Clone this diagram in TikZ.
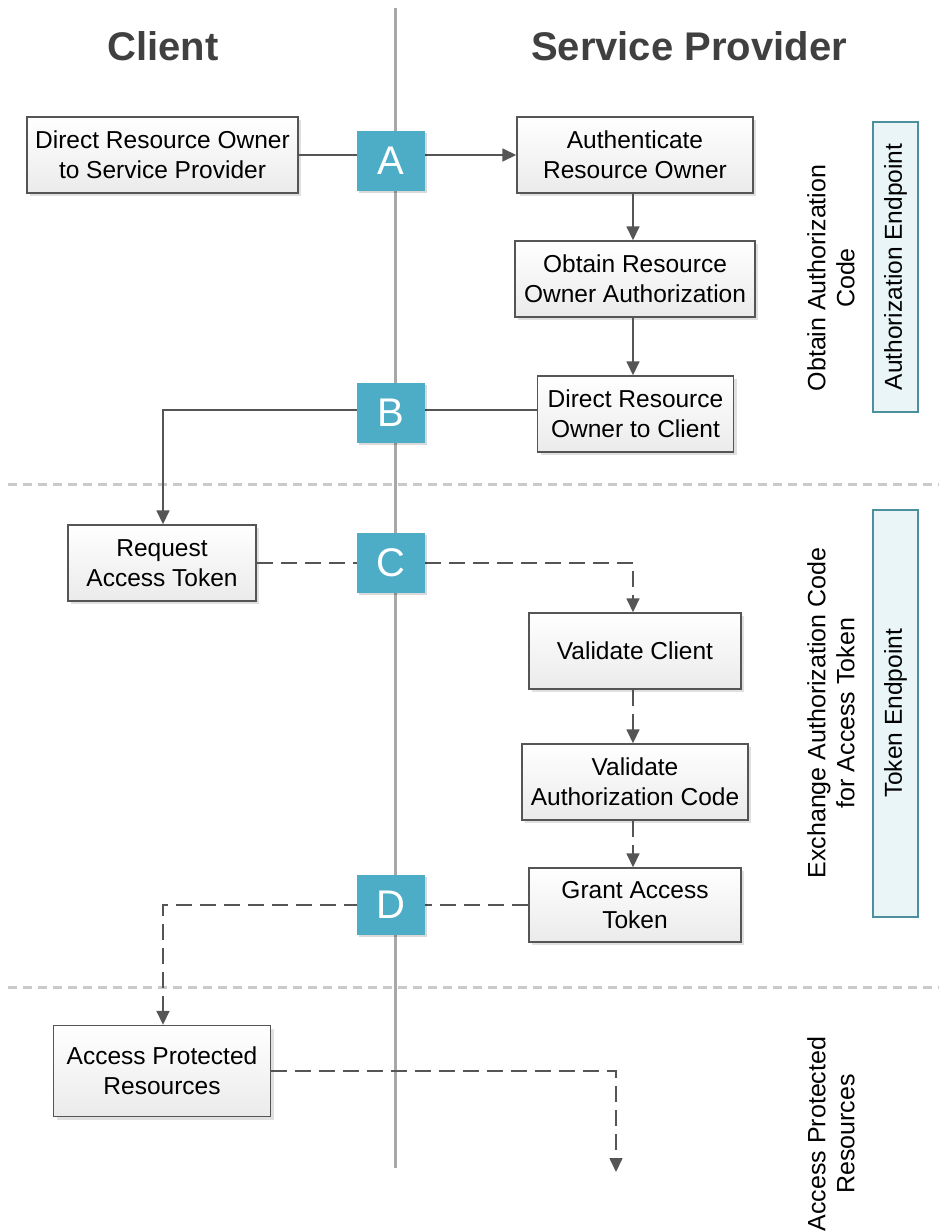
\documentclass[tikz,border=0pt]{standalone}
\usepackage{fontspec}
\setmainfont{Liberation Sans}
\usetikzlibrary{arrows.meta,shadows}
\definecolor{linegray}{HTML}{555555}
\definecolor{lanegray}{HTML}{A8A8A8}
\definecolor{sepgray}{HTML}{CACACA}
\definecolor{stepblue}{HTML}{4DADC7}
\definecolor{panelfill}{HTML}{E9F5F7}
\definecolor{paneledge}{HTML}{4E8F9D}
\definecolor{headgray}{HTML}{404040}
\begin{document}
\begin{tikzpicture}[x=1pt,y=-1pt,
  stepbox/.style={draw=linegray, line width=1.4pt, top color=white, bottom color=black!8,
    drop shadow={shadow xshift=3pt, shadow yshift=-3pt, fill=black, opacity=0.12},
    align=center, inner sep=2pt, font=\fontsize{24.5}{30}\selectfont, minimum height=76pt},
  letterbox/.style={fill=stepblue, text=white, minimum width=68pt, minimum height=60pt,
    inner sep=0pt, font=\fontsize{40}{40}\selectfont,
    drop shadow={shadow xshift=2pt, shadow yshift=-2pt, fill=black, opacity=0.15}},
  panel/.style={rotate=90, draw=paneledge, fill=panelfill, line width=1.4pt,
    minimum height=45pt, inner sep=0pt, font=\fontsize{24.5}{28}\selectfont},
  phase/.style={rotate=90, align=center, font=\fontsize{25}{29}\selectfont},
  head/.style={text=headgray, font=\bfseries\fontsize{40}{40}\selectfont},
  flow/.style={draw=linegray, line width=1.6pt, -{Triangle[length=14pt,width=13pt]}},
  dashflow/.style={flow, dash pattern=on 16pt off 8pt},
  separator/.style={draw=sepgray, line width=3pt, dash pattern=on 9pt off 6pt}
]
\useasboundingbox (0,0) rectangle (939,1232);

% swimlane divider and phase separators
\draw[draw=lanegray, line width=3pt] (395,8) coordinate (laneTop) -- (395,1168) coordinate (laneBot);
\draw[separator] (8,484) coordinate (sepAl) -- (939,484) coordinate (sepAr);
\draw[separator] (8,987) coordinate (sepBl) -- (939,987) coordinate (sepBr);

% lane headings
\node[head] (client) at (163,46) {Client};
\node[head] (provider) at (689,46) {Service Provider};

% process steps
\node[stepbox, minimum width=271pt] (b1) at (162.5,155) {Direct Resource Owner\\to Service Provider};
\node[stepbox, minimum width=236pt] (b2) at (635,155) {Authenticate\\Resource Owner};
\node[stepbox, minimum width=240pt] (b3) at (635,279) {Obtain Resource\\Owner Authorization};
\node[stepbox, minimum width=196pt] (b4) at (635.5,414) {Direct Resource\\Owner to Client};
\node[stepbox, minimum width=188pt] (b5) at (162,563) {Request\\Access Token};
\node[stepbox, minimum width=212pt] (b6) at (635,651) {Validate Client};
\node[stepbox, minimum width=226pt] (b7) at (635,782) {Validate\\Authorization Code};
\node[stepbox, minimum width=212pt, minimum height=74pt] (b8) at (635,905) {Grant Access\\Token};
\node[stepbox, minimum width=217pt, minimum height=91pt] (b9) at (162,1071) {Access Protected\\Resources};
\coordinate (out) at (616,1172);

% connectors
\draw[flow] (b1.east) -- (b2.west);
\draw[flow] ([xshift=-2pt]b2.south) -- ([xshift=-2pt]b3.north);
\draw[flow] ([xshift=-2pt]b3.south) -- ([xshift=-2.5pt]b4.north);
\draw[flow] ([yshift=4pt]b4.west) -| ([xshift=1pt]b5.north);
\draw[dashflow] (b5.east) -| ([xshift=-2pt]b6.north);
\draw[dashflow] ([xshift=-2pt]b6.south) -- ([xshift=-2pt]b7.north);
\draw[dashflow] ([xshift=-2pt]b7.south) -- ([xshift=-2pt]b8.north);
\draw[dashflow] (b8.west) -| ([xshift=1pt]b9.north);
\draw[dashflow] (b9.east) -| (out);

% step markers on the divider
\node[letterbox] (A) at (391,161) {A};
\node[letterbox] (B) at (391,413) {B};
\node[letterbox] (C) at (391,563) {C};
\node[letterbox] (D) at (391,905) {D};

% phase labels and endpoints
\node[phase] (ph1) at (831,278) {Obtain Authorization\\Code};
\node[phase] (ph2) at (831,713) {Exchange Authorization Code\\for Access Token};
\node[phase] (ph3) at (831,1134) {Access Protected\\Resources};
\node[panel, minimum width=290pt] (authEP) at (895.5,267) {Authorization Endpoint};
\node[panel, minimum width=407pt] (tokenEP) at (895.5,713.5) {Token Endpoint};
\end{tikzpicture}
\end{document}
